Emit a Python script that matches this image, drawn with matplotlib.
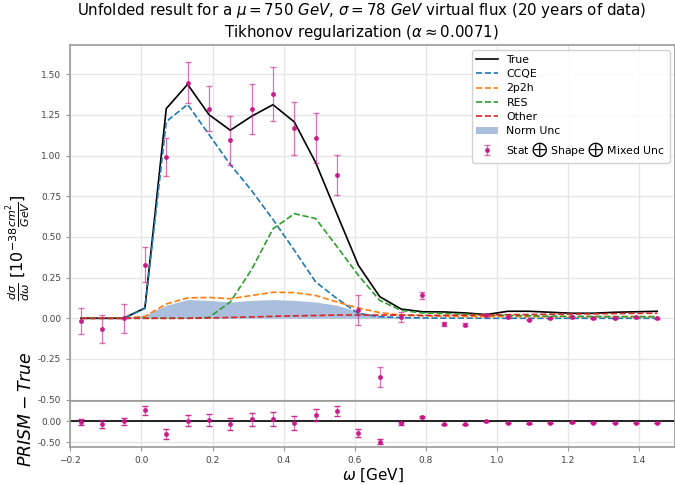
import numpy as np
import matplotlib.pyplot as plt
from matplotlib.ticker import FormatStrFormatter, MultipleLocator

# bin centres in omega [GeV]
omega = [-0.17, -0.11, -0.05, 0.01, 0.07, 0.13, 0.19, 0.25, 0.31, 0.37, 0.43, 0.49, 0.55, 0.61,
         0.67, 0.73, 0.79, 0.85, 0.91, 0.97, 1.03, 1.09, 1.15, 1.21, 1.27, 1.33, 1.39, 1.45]

true_xsec = [0.0, 0.0, 0.0, 0.063, 1.289, 1.438, 1.252, 1.156, 1.242, 1.313, 1.207, 0.957, 0.64, 0.326,
             0.133, 0.057, 0.04, 0.039, 0.033, 0.023, 0.043, 0.043, 0.037, 0.031, 0.031, 0.037, 0.04, 0.043]
ccqe = [0.0, 0.0, 0.0, 0.06, 1.209, 1.315, 1.13, 0.945, 0.785, 0.607, 0.418, 0.223, 0.121, 0.029,
        0.01, 0.004, 0.002, 0.001, 0.001, 0.0, 0.0, 0.0, 0.0, 0.0, 0.0, 0.0, 0.0, 0.0]
twop2h = [0.0, 0.0, 0.0, 0.012, 0.088, 0.125, 0.128, 0.12, 0.14, 0.16, 0.158, 0.14, 0.1, 0.063,
          0.035, 0.02, 0.015, 0.012, 0.011, 0.01, 0.01, 0.01, 0.01, 0.01, 0.01, 0.01, 0.01, 0.01]
res = [0.0, 0.0, 0.0, 0.0, 0.0, 0.0, 0.005, 0.1, 0.3, 0.55, 0.643, 0.613, 0.44, 0.264,
       0.11, 0.049, 0.033, 0.03, 0.025, 0.02, 0.018, 0.015, 0.013, 0.012, 0.011, 0.01, 0.01, 0.01]
other = [0.0, 0.0, 0.0, 0.0, 0.0, 0.0, 0.002, 0.005, 0.008, 0.012, 0.015, 0.017, 0.02, 0.02,
         0.02, 0.019, 0.018, 0.018, 0.019, 0.02, 0.022, 0.023, 0.025, 0.026, 0.027, 0.029, 0.03, 0.031]
norm_unc = [0.0, 0.0, 0.0, 0.02, 0.08, 0.115, 0.11, 0.10, 0.11, 0.115, 0.11, 0.10, 0.08, 0.04,
            0.015, 0.005, 0.002, 0.0, 0.0, 0.0, 0.0, 0.0, 0.0, 0.0, 0.0, 0.0, 0.0, 0.0]

prism = [-0.015, -0.065, 0.0, 0.33, 0.99, 1.449, 1.289, 1.094, 1.287, 1.377, 1.168, 1.107, 0.881, 0.049,
         -0.36, 0.007, 0.141, -0.033, -0.039, 0.023, 0.009, -0.008, 0.0, 0.006, 0.0, 0.0, 0.006, 0.0]
prism_err = [0.08, 0.085, 0.09, 0.107, 0.118, 0.128, 0.14, 0.15, 0.153, 0.167, 0.163, 0.152, 0.124, 0.092,
             0.06, 0.03, 0.023, 0.012, 0.008, 0.006, 0.005, 0.005, 0.004, 0.004, 0.004, 0.004, 0.004, 0.004]

omega = np.array(omega)
prism = np.array(prism)
prism_err = np.array(prism_err)
diff = prism - np.array(true_xsec)

pt_col = '#c71585'
spine_col = '#9a9a9a'

fig = plt.figure(figsize=(6.75, 4.84), dpi=100)
ax = fig.add_axes([0.104, 0.171, 0.896, 0.736])
axr = fig.add_axes([0.104, 0.076, 0.896, 0.095], sharex=ax)

for a in (ax, axr):
    a.grid(True, color='#e6e6e6', linewidth=1)
    a.set_axisbelow(True)
    for s in a.spines.values():
        s.set_color(spine_col)
        s.set_linewidth(1.2)
    a.tick_params(labelsize=6.5, colors='#444444', length=3, color=spine_col)
    a.yaxis.set_major_formatter(FormatStrFormatter('%.2f'))

# Main panel
ax.fill_between(omega, 0, norm_unc, color='#a9bfdd', linewidth=0, label='Norm Unc')
ax.plot(omega, true_xsec, color='black', linewidth=1.2, label='True')
ax.plot(omega, ccqe, '--', color='C0', linewidth=1.2, label='CCQE')
ax.plot(omega, twop2h, '--', color='C1', linewidth=1.2, label='2p2h')
ax.plot(omega, res, '--', color='C2', linewidth=1.2, label='RES')
ax.plot(omega, other, '--', color='C3', linewidth=1.2, label='Other')
eb = ax.errorbar(omega, prism, yerr=prism_err, fmt='o', color=pt_col, ecolor=pt_col, markersize=2.5,
                 elinewidth=0.9, capsize=2, alpha=0.9,
                 label=r'Stat $\bigoplus$ Shape $\bigoplus$ Mixed Unc')
for line in eb[2]:
    line.set_alpha(0.6)
for cap in eb[1]:
    cap.set_alpha(0.6)

ax.set_xlim(-0.2, 1.5)
ax.set_ylim(-0.51, 1.68)
ax.yaxis.set_major_locator(MultipleLocator(0.25))
ax.tick_params(labelbottom=False)
ax.set_ylabel(r'$\frac{d\sigma}{d\omega}$ $[10^{-38} \frac{cm^2}{GeV}]$', fontsize=11.5)
ax.yaxis.set_label_coords(-0.062, 0.43)
ax.set_title('Unfolded result for a $\\mu = 750\\ GeV$, $\\sigma = 78\\ GeV$ virtual flux (20 years of data)\n'
             'Tikhonov regularization ($\\alpha \\approx 0.0071$)', fontsize=10.8, x=0.482)

handles, labels = ax.get_legend_handles_labels()
order = ['True', 'CCQE', '2p2h', 'RES', 'Other', 'Norm Unc', r'Stat $\bigoplus$ Shape $\bigoplus$ Mixed Unc']
hmap = dict(zip(labels, handles))
ax.legend([hmap[l] for l in order], order, loc='upper right', fontsize=7.8, labelspacing=0.4,
          framealpha=0.9)

# Residual panel
axr.axhline(0, color='black', linewidth=1.2)
eb2 = axr.errorbar(omega, diff, yerr=prism_err, fmt='o', color=pt_col, ecolor=pt_col, markersize=2.5,
                   elinewidth=0.9, capsize=2, alpha=0.9)
for line in eb2[2]:
    line.set_alpha(0.6)
axr.set_yticks([-0.5, 0.0])
axr.set_ylim(-0.62, 0.48)
axr.set_xticks(np.arange(-0.2, 1.41, 0.2))
axr.set_xlim(-0.2, 1.5)
axr.set_xlabel(r'$\omega$ [GeV]', fontsize=11, labelpad=1)
axr.set_ylabel(r'$PRISM - True$', fontsize=12.5)
axr.yaxis.set_label_coords(-0.058, 0.83)

fig.savefig('out.png', dpi=100)
